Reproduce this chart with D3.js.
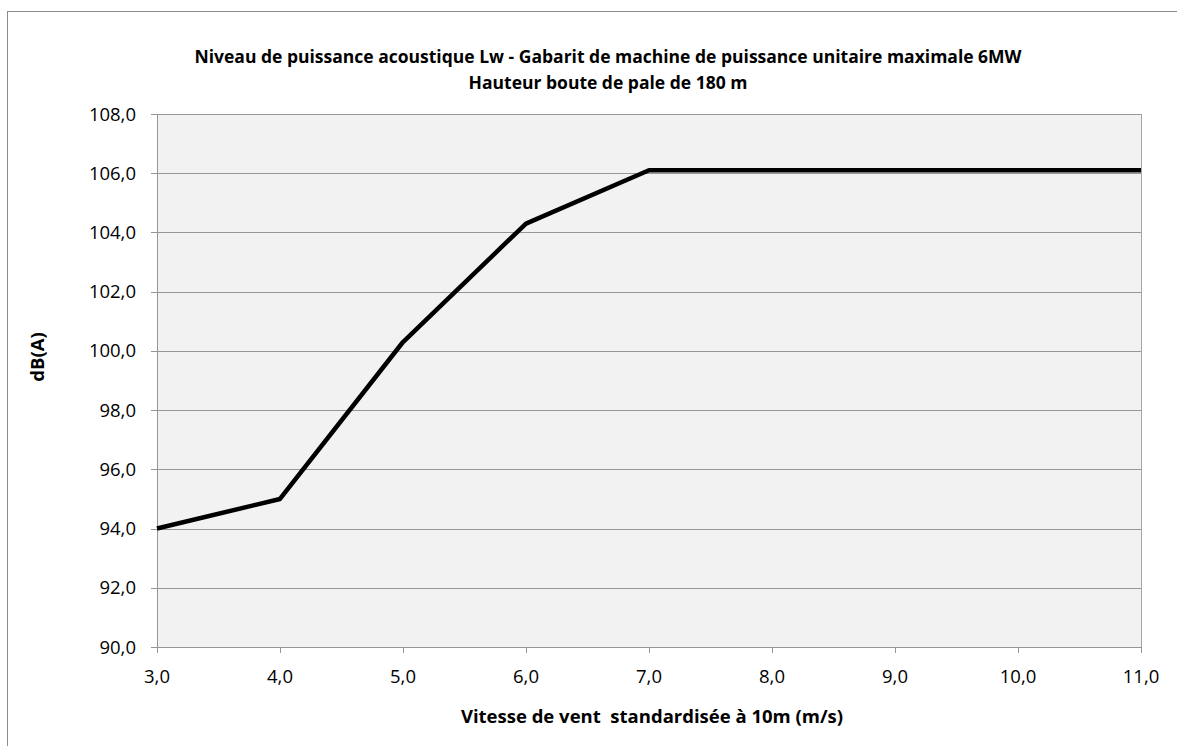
<!DOCTYPE html>
<html>
<head>
<meta charset="utf-8">
<script src="https://cdn.jsdelivr.net/npm/d3@7"></script>
<style>
  body { margin: 0; background: #fff; }
  text { font-family: "Open Sans", "Liberation Sans", sans-serif; fill: #000; white-space: pre; }
</style>
</head>
<body>
<svg id="chart" width="1177" height="746"></svg>
<script>
var windSpeed = [3, 4, 5, 6, 7, 8, 9, 10, 11];
var soundPower = [94.0, 95.0, 100.3, 104.3, 106.1, 106.1, 106.1, 106.1, 106.1];
var xTicks = [3, 4, 5, 6, 7, 8, 9, 10, 11];
var yTicks = [90, 92, 94, 96, 98, 100, 102, 104, 106, 108];
var titleLines = ["Niveau de puissance acoustique Lw - Gabarit de machine de puissance unitaire maximale 6MW",
                  "Hauteur boute de pale de 180 m"];

var svg = d3.select("#chart");
var pLeft = 157, pRight = 1141, pTop = 114, pBottom = 647;

// chart frame (right and bottom edges fall outside the picture)
svg.append("rect")
    .attr("x", 7.5).attr("y", 11.5)
    .attr("width", 1200).attr("height", 760)
    .attr("fill", "#fff").attr("stroke", "#8c8c8c");

var x = d3.scaleLinear().domain([3, 11]).range([pLeft, pRight]);
var y = d3.scaleLinear().domain([90, 108]).range([pBottom, pTop]);

svg.append("rect")
    .attr("x", pLeft).attr("y", pTop)
    .attr("width", pRight - pLeft).attr("height", pBottom - pTop)
    .attr("fill", "#f2f2f2");

// gridlines + y ticks
svg.append("g")
    .selectAll("line")
    .data(yTicks)
    .join("line")
    .attr("x1", pLeft - 6).attr("x2", pRight)
    .attr("y1", d => Math.round(y(d)) + 0.5).attr("y2", d => Math.round(y(d)) + 0.5)
    .attr("stroke", "#969696").attr("stroke-width", 1);

svg.append("line")
    .attr("x1", pLeft + 0.5).attr("x2", pLeft + 0.5)
    .attr("y1", pTop).attr("y2", pBottom + 0.5)
    .attr("stroke", "#969696");
svg.append("line")
    .attr("x1", pRight + 0.5).attr("x2", pRight + 0.5)
    .attr("y1", pTop).attr("y2", pBottom + 0.5)
    .attr("stroke", "#a6a6a6");

// x ticks
svg.append("g")
    .selectAll("line")
    .data(xTicks)
    .join("line")
    .attr("x1", d => Math.round(x(d)) + 0.5).attr("x2", d => Math.round(x(d)) + 0.5)
    .attr("y1", pBottom).attr("y2", pBottom + 6)
    .attr("stroke", "#969696");

var fmt = d => d.toFixed(1).replace(".", ",");

svg.append("g")
    .selectAll("text")
    .data(yTicks)
    .join("text")
    .attr("x", pLeft - 21)
    .attr("y", d => y(d) + 6.5)
    .attr("text-anchor", "end")
    .attr("font-size", 18.5)
    .text(fmt);

svg.append("g")
    .selectAll("text")
    .data(xTicks)
    .join("text")
    .attr("x", d => x(d))
    .attr("y", pBottom + 36)
    .attr("text-anchor", "middle")
    .attr("font-size", 18.5)
    .text(fmt);

var line = d3.line()
    .x((d, i) => x(windSpeed[i]))
    .y(d => y(d));

svg.append("path")
    .datum(soundPower)
    .attr("d", line)
    .attr("fill", "none")
    .attr("stroke", "#000")
    .attr("stroke-width", 4.5)
    .attr("stroke-linejoin", "round");

svg.append("g")
    .selectAll("text")
    .data(titleLines)
    .join("text")
    .attr("x", 608)
    .attr("y", (d, i) => 63 + i * 26)
    .attr("text-anchor", "middle")
    .attr("font-size", 17.5)
    .attr("font-weight", "bold")
    .text(d => d);

svg.append("text")
    .attr("x", 652)
    .attr("y", 723)
    .attr("text-anchor", "middle")
    .attr("font-size", 18.5)
    .attr("font-weight", "bold")
    .text("Vitesse de vent  standardisée à 10m (m/s)");

svg.append("text")
    .attr("transform", "translate(44,357) rotate(-90)")
    .attr("text-anchor", "middle")
    .attr("font-size", 18.5)
    .attr("font-weight", "bold")
    .text("dB(A)");
</script>
</body>
</html>
